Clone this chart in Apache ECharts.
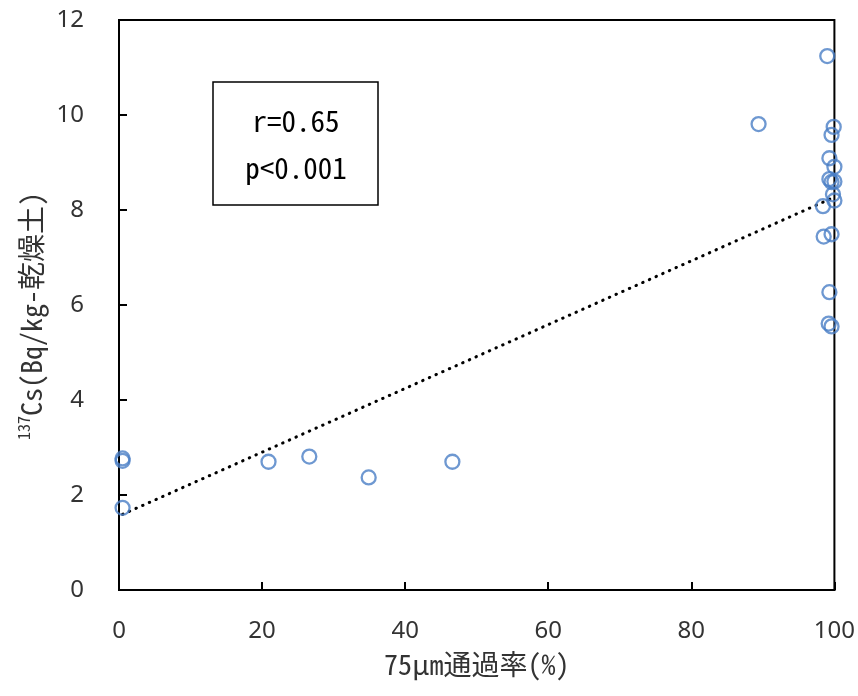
<!DOCTYPE html>
<html>
<head>
<meta charset="utf-8">
<script src="https://cdn.jsdelivr.net/npm/echarts@6/dist/echarts.min.js"></script>
<style>html,body{margin:0;padding:0;background:#fff}#c{width:858px;height:696px}</style>
</head>
<body>
<div id="c"></div>
<script>
// 75µm passing rate (%)
const passRate = [0.5, 0.5, 0.5, 20.9, 26.6, 34.9, 46.6, 89.4,
  99.0, 99.9, 99.6, 99.3, 100, 99.3, 100, 99.6, 99.8, 100, 98.4, 98.5, 99.6, 99.3, 99.2, 99.6];
// 137Cs (Bq/kg-dry soil)
const cs137 = [2.72, 2.77, 1.73, 2.70, 2.81, 2.37, 2.70, 9.81,
  11.24, 9.75, 9.58, 9.09, 8.91, 8.65, 8.60, 8.59, 8.33, 8.20, 8.08, 7.44, 7.49, 6.27, 5.61, 5.55];
const xTicks = [0, 20, 40, 60, 80, 100];
const yTicks = [0, 2, 4, 6, 8, 10, 12];
const statLines = ['r=0.65', 'p<0.001'];
const xTitle = '75μm通過率(%)';
const yTitleSup = '137';
const yTitleMain = 'Cs(Bq/kg-乾燥土)';

// least-squares trend line computed from the data
const n = passRate.length;
const mx = passRate.reduce((a, b) => a + b, 0) / n;
const my = cs137.reduce((a, b) => a + b, 0) / n;
let sxy = 0, sxx = 0;
for (let i = 0; i < n; i++) { sxy += (passRate[i] - mx) * (cs137[i] - my); sxx += (passRate[i] - mx) ** 2; }
const slope = sxy / sxx, icpt = my - slope * mx;
const xmin = Math.min(...passRate), xmax = Math.max(...passRate);
const trend = [[xmin, icpt + slope * xmin], [xmax, icpt + slope * xmax]];

const tickFont = "'Noto Sans', sans-serif";
const titleFont = "'Noto Sans Mono CJK JP', 'Noto Sans CJK JP', sans-serif";
const monoFont = "'Noto Sans Mono CJK JP', 'DejaVu Sans Mono', monospace";

const chart = echarts.init(document.getElementById('c'), null, { renderer: 'canvas' });
chart.setOption({
  animation: false,
  grid: { left: 119, right: 23, top: 20, bottom: 106, show: true, borderColor: '#000', borderWidth: 2, backgroundColor: 'transparent' },
  xAxis: {
    type: 'value', min: 0, max: 100, interval: 20,
    name: xTitle, nameLocation: 'middle', nameGap: 60,
    nameTextStyle: { fontFamily: titleFont, fontSize: 28, color: '#333' },
    axisLine: { lineStyle: { color: '#000', width: 2 } },
    axisTick: { inside: true, length: 8, lineStyle: { color: '#000', width: 2 } },
    axisLabel: { fontFamily: tickFont, fontSize: 24, color: '#333', margin: 29,
      formatter: v => xTicks.includes(v) ? String(v) : '' },
    splitLine: { show: false }
  },
  yAxis: {
    type: 'value', min: 0, max: 12, interval: 2,
    axisLine: { show: true, lineStyle: { color: '#000', width: 2 } },
    axisTick: { show: true, inside: true, length: 8, lineStyle: { color: '#000', width: 2 } },
    axisLabel: { fontFamily: tickFont, fontSize: 24, color: '#333', margin: 35,
      formatter: v => yTicks.includes(v) ? String(v) : '' },
    splitLine: { show: false }
  },
  series: [
    {
      type: 'line', data: trend, symbol: 'none', silent: true, z: 1,
      lineStyle: { color: '#000', width: 3, type: [0.5, 6.8], cap: 'round' }
    },
    {
      type: 'scatter', data: passRate.map((x, i) => [x, cs137[i]]), z: 2,
      symbol: 'circle', symbolSize: 14,
      itemStyle: { color: 'rgba(255,255,255,0)', borderColor: '#4A7EC6', borderWidth: 2.3 }
    }
  ],
  graphic: [
    { type: 'text', x: 31, y: 316, rotation: Math.PI / 2, z: 11,
      style: {
        text: '{sup|' + yTitleSup + '}{n|' + yTitleMain + '}',
        align: 'center', verticalAlign: 'middle',
        rich: {
          sup: { fontFamily: titleFont, fontSize: 16, fill: '#333', verticalAlign: 'top', lineHeight: 30 },
          n: { fontFamily: titleFont, fontSize: 28, fill: '#333', lineHeight: 30 }
        }
      } },
    { type: 'rect', shape: { x: 213, y: 82, width: 165, height: 123 },
      style: { fill: '#fff', stroke: '#000', lineWidth: 1.5 }, z: 10 },
    { type: 'text', x: 296, y: 121, z: 11,
      style: { text: statLines[0], fontFamily: monoFont, fontSize: 29, fill: '#000', align: 'center', verticalAlign: 'middle' } },
    { type: 'text', x: 296, y: 168, z: 11,
      style: { text: statLines[1], fontFamily: monoFont, fontSize: 29, fill: '#000', align: 'center', verticalAlign: 'middle' } }
  ]
});
</script>
</body>
</html>
